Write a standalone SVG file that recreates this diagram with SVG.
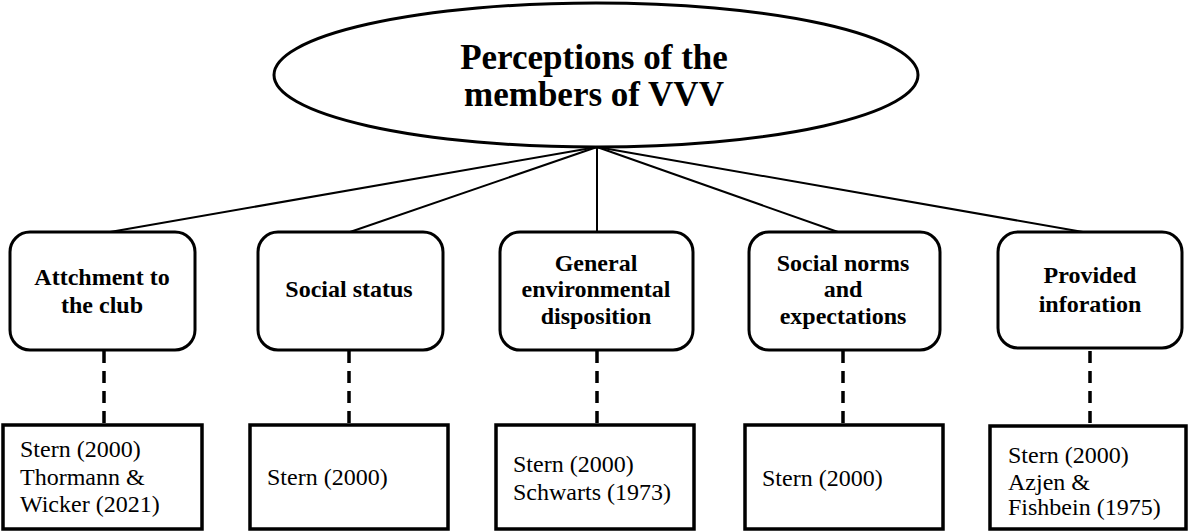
<svg xmlns="http://www.w3.org/2000/svg" width="1190" height="532" viewBox="0 0 1190 532">
<style>
text{font-family:'Liberation Serif','Times New Roman',Times,'DejaVu Serif',serif;fill:#000}
.title{font-weight:bold;font-size:35px;text-anchor:middle}
.lbl{font-weight:bold;font-size:24px;text-anchor:middle}
.ref{font-size:24px}
.rbox{fill:#fff;stroke:#000;stroke-width:3}
.sbox{fill:#fff;stroke:#000;stroke-width:3.5}
.conn{stroke:#000;stroke-width:2;fill:none}
.dash{stroke:#000;stroke-width:3.5;fill:none;stroke-dasharray:12 8}
</style>
<rect width="1190" height="532" fill="#fff"/>
<g id="connectors">
<line class="conn" x1="597" y1="147" x2="110" y2="232"/>
<line class="conn" x1="597" y1="147" x2="350" y2="232"/>
<line class="conn" x1="597" y1="147" x2="597" y2="232"/>
<line class="conn" x1="597" y1="147" x2="838" y2="232"/>
<line class="conn" x1="597" y1="147" x2="1083" y2="232"/>
<line class="dash" x1="104" y1="351" x2="104" y2="425"/>
<line class="dash" x1="349" y1="351" x2="349" y2="425"/>
<line class="dash" x1="597" y1="351" x2="597" y2="425"/>
<line class="dash" x1="843" y1="351" x2="843" y2="425"/>
<line class="dash" x1="1090" y1="351" x2="1090" y2="425"/>
</g>
<g id="root">
<ellipse cx="596" cy="75" rx="322" ry="72" fill="#fff" stroke="#000" stroke-width="3"/>
<text class="title" x="594" y="69">Perceptions of the</text>
<text class="title" x="594" y="106">members of VVV</text>
</g>
<g id="n1">
<rect class="rbox" x="10" y="232" width="185" height="118" rx="20"/>
<text class="lbl" x="102" y="285">Attchment to</text>
<text class="lbl" x="102" y="313">the club</text>
</g>
<g id="n2">
<rect class="rbox" x="258" y="232" width="185" height="118" rx="20"/>
<text class="lbl" x="349" y="297">Social status</text>
</g>
<g id="n3">
<rect class="rbox" x="500" y="232" width="193" height="118" rx="20"/>
<text class="lbl" x="596" y="271">General</text>
<text class="lbl" x="596" y="297">environmental</text>
<text class="lbl" x="596" y="324">disposition</text>
</g>
<g id="n4">
<rect class="rbox" x="749" y="232" width="191" height="118" rx="20"/>
<text class="lbl" x="843" y="271">Social norms</text>
<text class="lbl" x="843" y="297">and</text>
<text class="lbl" x="843" y="324">expectations</text>
</g>
<g id="n5">
<rect class="rbox" x="998" y="232" width="184" height="116" rx="20"/>
<text class="lbl" x="1090" y="283">Provided</text>
<text class="lbl" x="1090" y="312">inforation</text>
</g>
<g id="r1">
<rect class="sbox" x="3" y="425" width="199" height="104"/>
<text class="ref" x="20" y="457">Stern (2000)</text>
<text class="ref" x="20" y="485">Thormann &amp;</text>
<text class="ref" x="20" y="512">Wicker (2021)</text>
</g>
<g id="r2">
<rect class="sbox" x="250" y="425" width="198" height="104"/>
<text class="ref" x="267" y="485">Stern (2000)</text>
</g>
<g id="r3">
<rect class="sbox" x="496" y="425" width="198" height="104"/>
<text class="ref" x="513" y="472">Stern (2000)</text>
<text class="ref" x="513" y="500">Schwarts (1973)</text>
</g>
<g id="r4">
<rect class="sbox" x="745" y="425" width="198" height="104"/>
<text class="ref" x="762" y="486">Stern (2000)</text>
</g>
<g id="r5">
<rect class="sbox" x="990" y="426" width="196" height="103"/>
<text class="ref" x="1008" y="463">Stern (2000)</text>
<text class="ref" x="1008" y="490">Azjen &amp;</text>
<text class="ref" x="1008" y="515">Fishbein (1975)</text>
</g>
</svg>
